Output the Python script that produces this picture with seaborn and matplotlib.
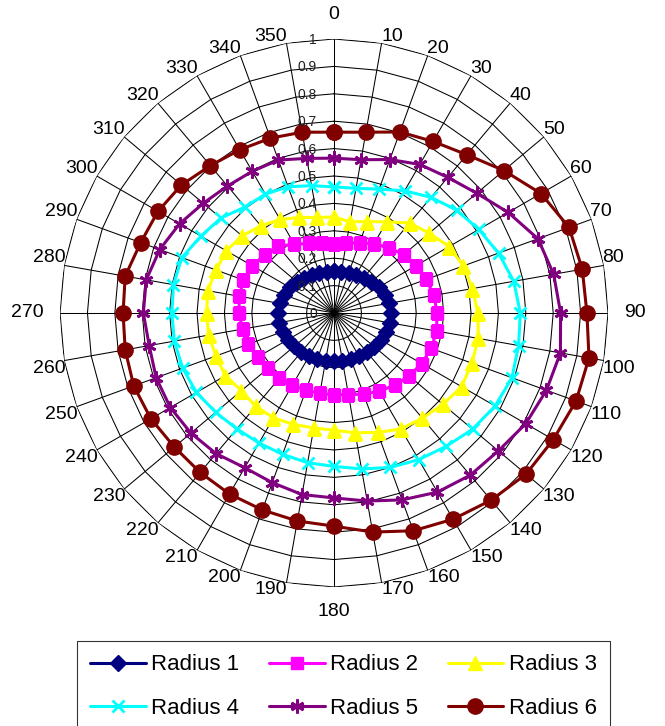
import numpy as np
import matplotlib
matplotlib.use("Agg")
import matplotlib.pyplot as plt
from matplotlib.lines import Line2D
import seaborn as sns

# Categories (degrees) and radial scale
angles_deg = list(range(0, 360, 10))
category_labels = [str(a) for a in angles_deg]
ring_values = [0.1, 0.2, 0.3, 0.4, 0.5, 0.6, 0.7, 0.8, 0.9, 1.0]
ring_labels = ["0", "0.1", "0.2", "0.3", "0.4", "0.5", "0.6", "0.7", "0.8", "0.9", "1"]

# Series values, one per category (0, 10, ..., 350)
radius_1 = [0.152, 0.153, 0.156, 0.162, 0.169, 0.178, 0.188, 0.197, 0.204, 0.207,
            0.206, 0.203, 0.198, 0.192, 0.187, 0.182, 0.179, 0.177, 0.176, 0.177,
            0.178, 0.181, 0.185, 0.190, 0.195, 0.200, 0.203, 0.204, 0.202, 0.196,
            0.187, 0.178, 0.169, 0.162, 0.156, 0.153]
radius_2 = [0.253, 0.260, 0.272, 0.292, 0.311, 0.332, 0.346, 0.358, 0.370, 0.376,
            0.380, 0.378, 0.369, 0.358, 0.344, 0.330, 0.315, 0.303, 0.298, 0.298,
            0.300, 0.304, 0.310, 0.315, 0.321, 0.333, 0.339, 0.347, 0.351, 0.352,
            0.345, 0.330, 0.318, 0.290, 0.270, 0.258]
radius_3 = [0.350, 0.338, 0.355, 0.384, 0.429, 0.453, 0.485, 0.502, 0.513, 0.525,
            0.535, 0.535, 0.538, 0.519, 0.501, 0.489, 0.464, 0.444, 0.428, 0.426,
            0.433, 0.442, 0.445, 0.441, 0.458, 0.459, 0.465, 0.465, 0.468, 0.458,
            0.454, 0.438, 0.415, 0.394, 0.371, 0.354]
radius_4 = [0.460, 0.462, 0.481, 0.515, 0.551, 0.584, 0.610, 0.639, 0.666, 0.680,
            0.684, 0.691, 0.679, 0.660, 0.636, 0.618, 0.600, 0.578, 0.560, 0.555,
            0.549, 0.548, 0.552, 0.564, 0.580, 0.588, 0.592, 0.592, 0.595, 0.591,
            0.561, 0.539, 0.505, 0.501, 0.490, 0.472]
radius_5 = [0.565, 0.568, 0.596, 0.626, 0.646, 0.680, 0.734, 0.792, 0.814, 0.827,
            0.839, 0.825, 0.808, 0.783, 0.773, 0.755, 0.726, 0.697, 0.675, 0.673,
            0.659, 0.652, 0.670, 0.682, 0.690, 0.691, 0.685, 0.696, 0.696, 0.677,
            0.651, 0.623, 0.605, 0.597, 0.594, 0.573]
radius_6 = [0.660, 0.670, 0.703, 0.723, 0.754, 0.809, 0.872, 0.913, 0.920, 0.923,
            0.945, 0.940, 0.924, 0.915, 0.892, 0.869, 0.846, 0.812, 0.778, 0.771,
            0.765, 0.763, 0.760, 0.761, 0.772, 0.778, 0.774, 0.770, 0.774, 0.751,
            0.742, 0.727, 0.702, 0.688, 0.679, 0.670]

series_names = ["Radius 1", "Radius 2", "Radius 3", "Radius 4", "Radius 5", "Radius 6"]
series_values = [radius_1, radius_2, radius_3, radius_4, radius_5, radius_6]

# Styling
colors = ["#000080", "#FF00FF", "#FFFF00", "#00FFFF", "#800080", "#800000"]
markers = ["D", "s", "^", "x", (6, 2, 0), "o"]
marker_sizes = [8, 9, 10, 9, 10, 11]
marker_edge_widths = [1, 1, 1, 2, 2, 1]

sns.set_theme(style="white")
plt.rcParams["font.family"] = ["Liberation Sans", "DejaVu Sans"]
plt.rcParams["text.color"] = "black"

fig = plt.figure(figsize=(6.65, 7.26), dpi=100)
ax = fig.add_axes([0.0903, 0.1915, 0.824, 0.7548], projection="polar")
ax.set_theta_zero_location("N")
ax.set_theta_direction(-1)
ax.set_ylim(0, 1)
ax.grid(False)
ax.set_xticks([])
ax.set_yticks([])
ax.spines["polar"].set_visible(False)
ax.set_facecolor("none")

theta = np.deg2rad(angles_deg)
theta_closed = np.append(theta, 2 * np.pi)

# Polygonal gridlines: rings and spokes
for v in ring_values:
    ax.plot(theta_closed, [v] * len(theta_closed), color="black", lw=0.75, zorder=1)
for t in theta:
    ax.plot([t, t], [0, 1], color="black", lw=0.75, zorder=1)

# Data series
for i, (name, vals) in enumerate(zip(series_names, series_values)):
    closed = list(vals) + [vals[0]]
    sns.lineplot(x=theta_closed, y=closed, ax=ax, sort=False, estimator=None,
                 color=colors[i], linewidth=2.2, marker=markers[i],
                 markersize=marker_sizes[i], markeredgecolor=colors[i],
                 markerfacecolor=colors[i], markeredgewidth=marker_edge_widths[i],
                 zorder=3 + i, legend=False)

# Category labels around the outside
for t, lbl in zip(theta, category_labels):
    s, c = np.sin(t), np.cos(t)
    eps = 0.05
    ha = "left" if s > eps else ("right" if s < -eps else "center")
    va = "bottom" if c > eps else ("top" if c < -eps else "center")
    cardinal = ha == "center" or va == "center"
    r = 1.06 if cardinal else 0.995
    ax.text(t, r, lbl, ha=ha, va=va, fontsize=14, color="black",
            clip_on=False)

# Radial value labels beside the 0 spoke
for v, lbl in zip([0.0] + ring_values, ring_labels):
    ax.annotate(lbl, xy=(0, v), xytext=(-17, -1), textcoords="offset pixels",
                ha="right", va="center", fontsize=10, color="#222222",
                zorder=10)

# Legend, filled row by row (three entries per row)
handles = [Line2D([0], [0], color=colors[i], lw=2.2, marker=markers[i],
                  markersize=marker_sizes[i], markeredgecolor=colors[i],
                  markerfacecolor=colors[i], markeredgewidth=marker_edge_widths[i])
           for i in range(len(series_names))]
order = [0, 3, 1, 4, 2, 5]
leg = fig.legend([handles[k] for k in order], [series_names[k] for k in order],
                 ncol=3, loc="upper left",
                 bbox_to_anchor=(77 / 665, 0, 533 / 665, 1 - 641 / 726),
                 mode="expand", frameon=True, fancybox=False, shadow=False,
                 edgecolor="black", fontsize=16, handlelength=2.5,
                 handletextpad=0.25, columnspacing=1.0, borderpad=0.6,
                 labelspacing=1.0, borderaxespad=0)
leg.get_frame().set_linewidth(0.8)
for txt in leg.get_texts():
    txt.set_color("black")

fig.savefig("out.png", dpi=100, facecolor="white")
